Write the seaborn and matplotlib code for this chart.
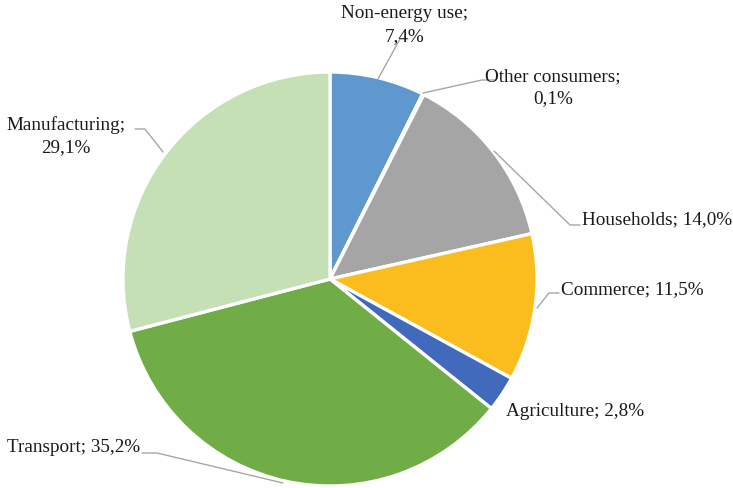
import matplotlib
matplotlib.use("Agg")
import matplotlib.pyplot as plt
import seaborn as sns

sns.set_theme(style="white")
plt.rcParams["font.family"] = ["Liberation Serif", "DejaVu Serif"]

categories = ["Non-energy use", "Other consumers", "Households", "Commerce",
              "Agriculture", "Transport", "Manufacturing"]
shares = [7.4, 0.1, 14.0, 11.5, 2.8, 35.2, 29.1]
colors = ["#5F98CF", "#ED7D31", "#A5A5A5", "#FABD1D",
          "#4169BC", "#70AD47", "#C5E0B4"]

W, H = 733, 488
fig = plt.figure(figsize=(W / 100, H / 100), dpi=100)
ax = fig.add_axes([0, 0, 1, 1])

cx, cy, r = 330, 279, 207
# y axis is inverted, so draw counter-clockwise in data space to appear clockwise
ax.pie(shares, colors=colors, startangle=-90, counterclock=True,
       center=(cx, cy), radius=r,
       wedgeprops=dict(edgecolor="white", linewidth=2.4), frame=True)
ax.set_xlim(0, W)
ax.set_ylim(H, 0)
ax.set_aspect("equal")
ax.axis("off")

def fmt(v):
    return f"{v:.1f}".replace(".", ",") + "%"

fs = 13.8
line_kw = dict(color="#A6A6A6", lw=1.0)

# text rows (x, y, text, ha) and leader polyline for every slice
labels = [
    dict(lines=[(405, 14, f"{categories[0]};", "center"),
                (405, 37, fmt(shares[0]), "center")],
         leader=[(408, 39), (400, 39), (378, 79)]),
    dict(lines=[(553, 77, f"{categories[1]};", "center"),
                (553, 99, fmt(shares[1]), "center")],
         leader=[(495, 80), (482, 80), (423, 93)]),
    dict(lines=[(582, 220, f"{categories[2]}; {fmt(shares[2])}", "left")],
         leader=[(580, 225), (570, 225), (494, 151)]),
    dict(lines=[(561, 290, f"{categories[3]}; {fmt(shares[3])}", "left")],
         leader=[(559, 293), (549, 293), (537, 308)]),
    dict(lines=[(506, 411, f"{categories[4]}; {fmt(shares[4])}", "left")],
         leader=[]),
    dict(lines=[(7, 447, f"{categories[5]}; {fmt(shares[5])}", "left")],
         leader=[(142, 453), (157, 453), (283, 483)]),
    dict(lines=[(66, 125, f"{categories[6]};", "center"),
                (66, 148, fmt(shares[6]), "center")],
         leader=[(135, 129), (145, 129), (163, 152)]),
]

for spec in labels:
    for x, y, t, ha in spec["lines"]:
        ax.text(x, y, t, ha=ha, va="center", fontsize=fs, color="#1a1a1a")
    pts = spec["leader"]
    if pts:
        ax.plot([p[0] for p in pts], [p[1] for p in pts], **line_kw)

fig.savefig("out.png", dpi=100, facecolor="white")
